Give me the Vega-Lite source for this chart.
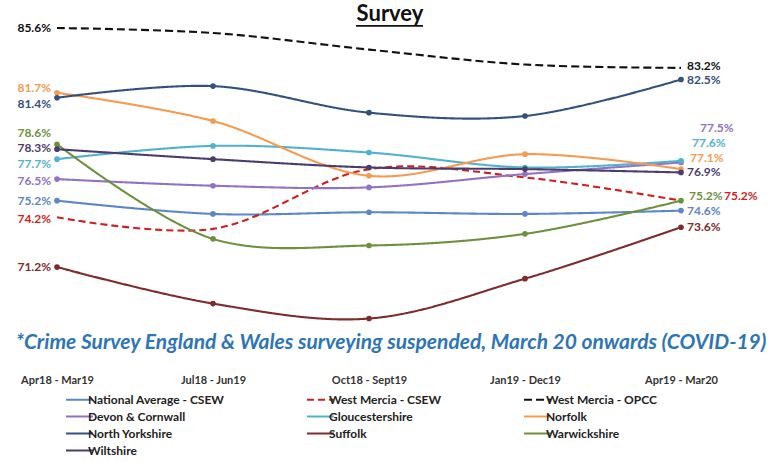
{
  "$schema": "https://vega.github.io/schema/vega-lite/v6.json",
  "width": 738,
  "height": 370,
  "autosize": {"type": "none"},
  "padding": {"left": 0, "top": 0, "right": 41, "bottom": 92},
  "background": "white",
  "title": {
    "text": "Survey",
    "font": "Lato",
    "fontSize": 22,
    "fontWeight": "bold",
    "color": "#111111",
    "anchor": "middle",
    "dx": 21,
    "offset": -26
  },
  "datasets": {
    "survey": [
      {"series": "National Average - CSEW", "period": "Apr18 - Mar19", "value": 75.2},
      {"series": "National Average - CSEW", "period": "Jul18 - Jun19", "value": 74.4},
      {"series": "National Average - CSEW", "period": "Oct18 - Sept19", "value": 74.5},
      {"series": "National Average - CSEW", "period": "Jan19 - Dec19", "value": 74.4},
      {"series": "National Average - CSEW", "period": "Apr19 - Mar20", "value": 74.6},
      {"series": "West Mercia - CSEW", "period": "Apr18 - Mar19", "value": 74.2},
      {"series": "West Mercia - CSEW", "period": "Jul18 - Jun19", "value": 73.5},
      {"series": "West Mercia - CSEW", "period": "Oct18 - Sept19", "value": 77.1},
      {"series": "West Mercia - CSEW", "period": "Jan19 - Dec19", "value": 76.6},
      {"series": "West Mercia - CSEW", "period": "Apr19 - Mar20", "value": 75.2},
      {"series": "West Mercia - OPCC", "period": "Apr18 - Mar19", "value": 85.6},
      {"series": "West Mercia - OPCC", "period": "Jul18 - Jun19", "value": 85.3},
      {"series": "West Mercia - OPCC", "period": "Oct18 - Sept19", "value": 84.3},
      {"series": "West Mercia - OPCC", "period": "Jan19 - Dec19", "value": 83.4},
      {"series": "West Mercia - OPCC", "period": "Apr19 - Mar20", "value": 83.2},
      {"series": "Devon & Cornwall", "period": "Apr18 - Mar19", "value": 76.5},
      {"series": "Devon & Cornwall", "period": "Jul18 - Jun19", "value": 76.1},
      {"series": "Devon & Cornwall", "period": "Oct18 - Sept19", "value": 76.0},
      {"series": "Devon & Cornwall", "period": "Jan19 - Dec19", "value": 76.8},
      {"series": "Devon & Cornwall", "period": "Apr19 - Mar20", "value": 77.5},
      {"series": "Gloucestershire", "period": "Apr18 - Mar19", "value": 77.7},
      {"series": "Gloucestershire", "period": "Jul18 - Jun19", "value": 78.5},
      {"series": "Gloucestershire", "period": "Oct18 - Sept19", "value": 78.1},
      {"series": "Gloucestershire", "period": "Jan19 - Dec19", "value": 77.2},
      {"series": "Gloucestershire", "period": "Apr19 - Mar20", "value": 77.6},
      {"series": "Norfolk", "period": "Apr18 - Mar19", "value": 81.7},
      {"series": "Norfolk", "period": "Jul18 - Jun19", "value": 80.0},
      {"series": "Norfolk", "period": "Oct18 - Sept19", "value": 76.7},
      {"series": "Norfolk", "period": "Jan19 - Dec19", "value": 78.0},
      {"series": "Norfolk", "period": "Apr19 - Mar20", "value": 77.1},
      {"series": "North Yorkshire", "period": "Apr18 - Mar19", "value": 81.4},
      {"series": "North Yorkshire", "period": "Jul18 - Jun19", "value": 82.1},
      {"series": "North Yorkshire", "period": "Oct18 - Sept19", "value": 80.5},
      {"series": "North Yorkshire", "period": "Jan19 - Dec19", "value": 80.3},
      {"series": "North Yorkshire", "period": "Apr19 - Mar20", "value": 82.5},
      {"series": "Suffolk", "period": "Apr18 - Mar19", "value": 71.2},
      {"series": "Suffolk", "period": "Jul18 - Jun19", "value": 69.0},
      {"series": "Suffolk", "period": "Oct18 - Sept19", "value": 68.1},
      {"series": "Suffolk", "period": "Jan19 - Dec19", "value": 70.5},
      {"series": "Suffolk", "period": "Apr19 - Mar20", "value": 73.6},
      {"series": "Warwickshire", "period": "Apr18 - Mar19", "value": 78.6},
      {"series": "Warwickshire", "period": "Jul18 - Jun19", "value": 72.9},
      {"series": "Warwickshire", "period": "Oct18 - Sept19", "value": 72.5},
      {"series": "Warwickshire", "period": "Jan19 - Dec19", "value": 73.2},
      {"series": "Warwickshire", "period": "Apr19 - Mar20", "value": 75.2},
      {"series": "Wiltshire", "period": "Apr18 - Mar19", "value": 78.3},
      {"series": "Wiltshire", "period": "Jul18 - Jun19", "value": 77.7},
      {"series": "Wiltshire", "period": "Oct18 - Sept19", "value": 77.2},
      {"series": "Wiltshire", "period": "Jan19 - Dec19", "value": 77.1},
      {"series": "Wiltshire", "period": "Apr19 - Mar20", "value": 76.9}
    ],
    "notes": [
      {"note": "*Crime Survey England & Wales surveying suspended, March 20 onwards (COVID-19)", "period": "Oct18 - Sept19"}
    ]
  },
  "layer": [
    {
      "data": {"name": "survey"},
      "encoding": {
        "x": {
          "field": "period",
          "type": "ordinal",
          "sort": ["Apr18 - Mar19", "Jul18 - Jun19", "Oct18 - Sept19", "Jan19 - Dec19", "Apr19 - Mar20"],
          "scale": {
            "type": "point",
            "padding": 0.3654,
            "domain": ["Apr18 - Mar19", "Jul18 - Jun19", "Oct18 - Sept19", "Jan19 - Dec19", "Apr19 - Mar20"]
          },
          "axis": {
            "title": null,
            "domain": false,
            "ticks": false,
            "grid": false,
            "labelAngle": 0,
            "labelPadding": 4,
            "labelFont": "Lato",
            "labelFontSize": 11,
            "labelFontWeight": "bold",
            "labelColor": "#333333"
          }
        },
        "y": {
          "field": "value",
          "type": "quantitative",
          "scale": {"domain": [65, 87.287], "nice": false, "zero": false},
          "axis": null
        }
      },
      "layer": [
        {
          "mark": {"type": "line", "interpolate": "catmull-rom", "strokeWidth": 2.1},
          "encoding": {
            "color": {
              "field": "series",
              "type": "nominal",
              "scale": {
                "domain": ["National Average - CSEW", "West Mercia - CSEW", "West Mercia - OPCC", "Devon & Cornwall", "Gloucestershire", "Norfolk", "North Yorkshire", "Suffolk", "Warwickshire", "Wiltshire"],
                "range": ["#5B86C8", "#D01E1E", "#111111", "#9272C4", "#4FB3CE", "#F59A4E", "#34507E", "#7E2B2E", "#6E903C", "#4B3C6E"]
              },
              "legend": {
                "title": null,
                "orient": "none",
                "legendX": 72,
                "legendY": 392,
                "direction": "horizontal",
                "columns": 3,
                "gridAlign": "each",
                "columnPadding": 78,
                "rowPadding": 3,
                "symbolType": "M-2.2,0H2.2",
                "symbolSize": 150,
                "symbolStrokeWidth": 2,
                "labelOffset": 1,
                "labelFont": "Lato",
                "labelFontSize": 12,
                "labelFontWeight": "bold",
                "labelColor": "#222222",
                "labelLimit": 300
              }
            },
            "strokeDash": {
              "field": "series",
              "type": "nominal",
              "scale": {
                "domain": ["National Average - CSEW", "West Mercia - CSEW", "West Mercia - OPCC", "Devon & Cornwall", "Gloucestershire", "Norfolk", "North Yorkshire", "Suffolk", "Warwickshire", "Wiltshire"],
                "range": [[1, 0], [7, 4], [8, 4], [1, 0], [1, 0], [1, 0], [1, 0], [1, 0], [1, 0], [1, 0]]
              }
            }
          }
        },
        {
          "transform": [
            {"filter": "datum.series !== 'West Mercia - CSEW' && datum.series !== 'West Mercia - OPCC'"}
          ],
          "mark": {"type": "point", "filled": true, "size": 32, "opacity": 1},
          "encoding": {"color": {"field": "series", "type": "nominal"}}
        },
        {
          "transform": [
            {"calculate": "format(datum.value, '.1f') + '%'", "as": "label"}
          ],
          "encoding": {
            "text": {"field": "label", "type": "nominal"},
            "color": {"field": "series", "type": "nominal"}
          },
          "layer": [
            {
              "transform": [
                {"filter": "datum.period === 'Apr18 - Mar19' && indexof(['West Mercia - OPCC', 'National Average - CSEW', 'Suffolk'], datum.series) >= 0"}
              ],
              "mark": {"type": "text", "align": "right", "dx": -6, "dy": 0, "font": "Lato", "fontSize": 12, "fontWeight": "bold"}
            },
            {
              "transform": [
                {"filter": "datum.period === 'Apr18 - Mar19' && datum.series === 'Wiltshire'"}
              ],
              "mark": {"type": "text", "align": "right", "dx": -6, "dy": -1, "font": "Lato", "fontSize": 12, "fontWeight": "bold"}
            },
            {
              "transform": [
                {"filter": "datum.period === 'Apr18 - Mar19' && datum.series === 'Norfolk'"}
              ],
              "mark": {"type": "text", "align": "right", "dx": -6, "dy": -5, "font": "Lato", "fontSize": 12, "fontWeight": "bold"}
            },
            {
              "transform": [
                {"filter": "datum.period === 'Apr18 - Mar19' && datum.series === 'North Yorkshire'"}
              ],
              "mark": {"type": "text", "align": "right", "dx": -6, "dy": 6, "font": "Lato", "fontSize": 12, "fontWeight": "bold"}
            },
            {
              "transform": [
                {"filter": "datum.period === 'Apr18 - Mar19' && datum.series === 'Warwickshire'"}
              ],
              "mark": {"type": "text", "align": "right", "dx": -6, "dy": -11, "font": "Lato", "fontSize": 12, "fontWeight": "bold"}
            },
            {
              "transform": [
                {"filter": "datum.period === 'Apr18 - Mar19' && datum.series === 'Gloucestershire'"}
              ],
              "mark": {"type": "text", "align": "right", "dx": -6, "dy": 5, "font": "Lato", "fontSize": 12, "fontWeight": "bold"}
            },
            {
              "transform": [
                {"filter": "datum.period === 'Apr18 - Mar19' && indexof(['Devon & Cornwall', 'West Mercia - CSEW'], datum.series) >= 0"}
              ],
              "mark": {"type": "text", "align": "right", "dx": -6, "dy": 2, "font": "Lato", "fontSize": 12, "fontWeight": "bold"}
            },
            {
              "transform": [
                {"filter": "datum.period === 'Apr19 - Mar20' && indexof(['Wiltshire', 'National Average - CSEW', 'Suffolk'], datum.series) >= 0"}
              ],
              "mark": {"type": "text", "align": "left", "dx": 6, "dy": 0, "font": "Lato", "fontSize": 12, "fontWeight": "bold"}
            },
            {
              "transform": [
                {"filter": "datum.period === 'Apr19 - Mar20' && datum.series === 'West Mercia - OPCC'"}
              ],
              "mark": {"type": "text", "align": "left", "dx": 6, "dy": -2, "font": "Lato", "fontSize": 12, "fontWeight": "bold"}
            },
            {
              "transform": [
                {"filter": "datum.period === 'Apr19 - Mar20' && datum.series === 'North Yorkshire'"}
              ],
              "mark": {"type": "text", "align": "left", "dx": 6, "dy": 1, "font": "Lato", "fontSize": 12, "fontWeight": "bold"}
            },
            {
              "transform": [
                {"filter": "datum.period === 'Apr19 - Mar20' && datum.series === 'Devon & Cornwall'"}
              ],
              "mark": {"type": "text", "align": "left", "dx": 19, "dy": -34, "font": "Lato", "fontSize": 12, "fontWeight": "bold"}
            },
            {
              "transform": [
                {"filter": "datum.period === 'Apr19 - Mar20' && datum.series === 'Gloucestershire'"}
              ],
              "mark": {"type": "text", "align": "left", "dx": 11, "dy": -18, "font": "Lato", "fontSize": 12, "fontWeight": "bold"}
            },
            {
              "transform": [
                {"filter": "datum.period === 'Apr19 - Mar20' && datum.series === 'Norfolk'"}
              ],
              "mark": {"type": "text", "align": "left", "dx": 9, "dy": -11, "font": "Lato", "fontSize": 12, "fontWeight": "bold"}
            },
            {
              "transform": [
                {"filter": "datum.period === 'Apr19 - Mar20' && datum.series === 'Warwickshire'"}
              ],
              "mark": {"type": "text", "align": "left", "dx": 8, "dy": -5, "font": "Lato", "fontSize": 12, "fontWeight": "bold"}
            },
            {
              "transform": [
                {"filter": "datum.period === 'Apr19 - Mar20' && datum.series === 'West Mercia - CSEW'"}
              ],
              "mark": {"type": "text", "align": "left", "dx": 43, "dy": -5, "font": "Lato", "fontSize": 12, "fontWeight": "bold"}
            }
          ]
        }
      ]
    },
    {
      "data": {"name": "notes"},
      "encoding": {
        "x": {
          "field": "period",
          "type": "ordinal",
          "sort": ["Apr18 - Mar19", "Jul18 - Jun19", "Oct18 - Sept19", "Jan19 - Dec19", "Apr19 - Mar20"]
        }
      },
      "layer": [
        {
          "mark": {"type": "rule", "color": "#111111", "strokeWidth": 1.6, "xOffset": -13, "x2Offset": 54},
          "encoding": {
            "x2": {"field": "period"},
            "y": {"datum": 85.73, "type": "quantitative"}
          }
        },
        {
          "mark": {"type": "text", "align": "center", "baseline": "middle", "dx": 22, "font": "Lato", "fontSize": 21, "fontWeight": "bold", "fontStyle": "italic", "fill": "#2E75B6"},
          "encoding": {
            "y": {"datum": 66.6, "type": "quantitative"},
            "text": {"field": "note", "type": "nominal"}
          }
        }
      ]
    }
  ],
  "config": {"view": {"stroke": null}}
}
